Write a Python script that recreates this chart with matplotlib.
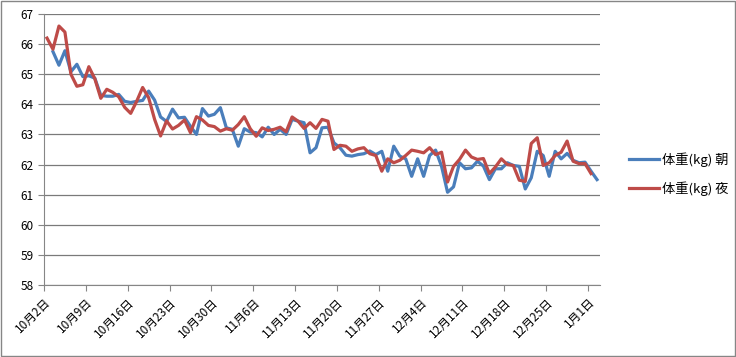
import matplotlib
matplotlib.use("Agg")
import matplotlib.pyplot as plt
import matplotlib.dates as mdates
import pandas as pd
import numpy as np

plt.rcParams['font.family'] = ['Noto Sans CJK JP', 'DejaVu Sans']

start = pd.Timestamp("2011-10-02")

# Morning weight (kg), starting Oct 3
morning = [65.75, 65.3, 65.78, 65.08, 65.33, 64.92, 64.95, 64.87, 64.3, 64.27,
           64.27, 64.33, 64.1, 64.06, 64.1, 64.13, 64.44, 64.14, 63.58, 63.43,
           63.84, 63.55, 63.57, 63.27, 63.0, 63.86, 63.61, 63.67, 63.89, 63.22,
           63.17, 62.61, 63.19, 63.08, 63.06, 62.92, 63.24, 63.0, 63.17, 63.0,
           63.5, 63.44, 63.39, 62.39, 62.56, 63.22, 63.24, 62.72, 62.56, 62.31,
           62.28, 62.33, 62.36, 62.45, 62.33, 62.44, 61.78, 62.61, 62.28, 62.19,
           61.61, 62.19, 61.61, 62.3, 62.48, 61.94, 61.08, 61.26, 62.06, 61.86,
           61.89, 62.11, 61.95, 61.5, 61.86, 61.86, 62.06, 61.97, 61.94, 61.19,
           61.56, 62.44, 62.3, 61.61, 62.44, 62.19, 62.37, 62.14, 62.06, 62.08,
           61.78, 61.5]
# Evening weight (kg), starting Oct 2
evening = [66.2, 65.83, 66.6, 66.4, 65.0, 64.6, 64.65, 65.25, 64.85, 64.2,
           64.5, 64.4, 64.25, 63.9, 63.7, 64.1, 64.56, 64.22, 63.5, 62.95,
           63.45, 63.18, 63.3, 63.48, 63.06, 63.59, 63.48, 63.3, 63.26, 63.11,
           63.19, 63.14, 63.33, 63.59, 63.19, 62.94, 63.22, 63.13, 63.17, 63.24,
           63.09, 63.58, 63.44, 63.2, 63.39, 63.2, 63.5, 63.44, 62.5, 62.64,
           62.61, 62.44, 62.52, 62.56, 62.36, 62.3, 61.78, 62.19, 62.06, 62.14,
           62.3, 62.48, 62.44, 62.39, 62.56, 62.33, 62.41, 61.42, 61.94, 62.17,
           62.48, 62.25, 62.17, 62.2, 61.7, 61.92, 62.19, 62.0, 61.97, 61.48,
           61.44, 62.7, 62.89, 61.97, 62.06, 62.3, 62.41, 62.78, 62.11, 62.03,
           62.03, 61.7]

series_labels = ["体重(kg) 朝", "体重(kg) 夜"]
y_ticks = list(range(58, 68))

half = pd.Timedelta(hours=12)
dates_m = pd.date_range(start + pd.Timedelta(days=1), periods=len(morning), freq="D") + half
dates_e = pd.date_range(start, periods=len(evening), freq="D") + half

fig = plt.figure(figsize=(7.36, 3.57), dpi=100)
ax = fig.add_axes([44/736, 1-285/357, (600-44)/736, (285-14)/357])

blue = "#4A7EBB"
red = "#BE4B48"
ax.plot(dates_m, morning, color=blue, lw=2.3, label=series_labels[0], solid_joinstyle="round")
ax.plot(dates_e, evening, color=red, lw=2.3, label=series_labels[1], solid_joinstyle="round")

ax.set_ylim(58, 67)
ax.set_yticks(y_ticks)
ax.set_xlim(start, start + pd.Timedelta(days=93))
ticks = pd.date_range(start, periods=14, freq="7D")
ax.set_xticks(ticks)
ax.set_xticklabels([f"{d.month}月{d.day}日" for d in ticks], rotation=45,
                   ha="right", rotation_mode="anchor", fontsize=8.5)
ax.tick_params(axis="y", labelsize=8.5, length=4, color="#868686", direction="out")
ax.tick_params(axis="x", length=4, color="#868686", direction="out")

ax.grid(axis="y", color="#7a7a7a", lw=0.9)
ax.set_axisbelow(True)
for s in ["top", "right"]:
    ax.spines[s].set_visible(False)
for s in ["left", "bottom"]:
    ax.spines[s].set_color("#868686")

leg = ax.legend(loc="center left", bbox_to_anchor=(1.03, 0.41), frameon=False,
                fontsize=9.5, handlelength=2.3, handletextpad=0.2, labelspacing=1.1)

# outer border
fig.patches.append(plt.Rectangle((0.001, 0.002), 0.997, 0.995, transform=fig.transFigure,
                                 fill=False, edgecolor="#868686", lw=1))

fig.savefig("out.png", dpi=100)
